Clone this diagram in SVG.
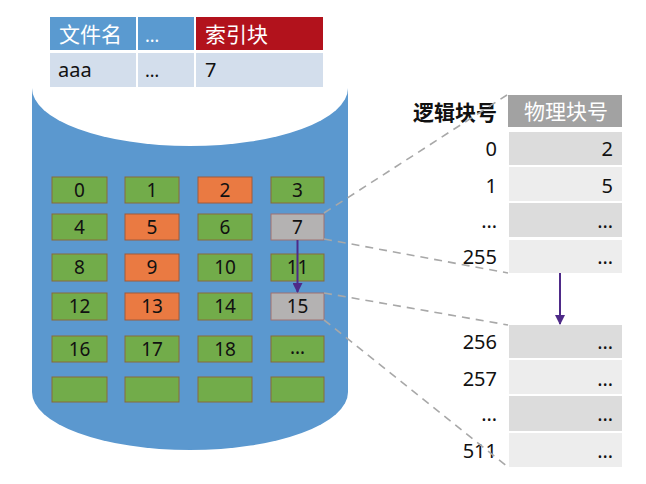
<svg xmlns="http://www.w3.org/2000/svg" width="646" height="484" viewBox="0 0 646 484">
<style>
.t{font-family:"Noto Sans","Noto Sans CJK SC",sans-serif;}
.num{font-family:"Noto Sans","Noto Sans CJK SC",sans-serif;font-size:19px;fill:#111;text-anchor:middle;}
.g{fill:#72ac4a;stroke:#8a6a3a;stroke-width:1;}
.o{fill:#ea7a42;stroke:#a05a3a;stroke-width:1;}
.s{fill:#b4b2b2;stroke:#a07070;stroke-width:1;}
.dash{fill:none;stroke:#a8a8a8;stroke-width:1.6;stroke-dasharray:8 6;}
.lab{font-family:"Noto Sans","Noto Sans CJK SC",sans-serif;font-size:20px;fill:#111;text-anchor:end;}
.dk{fill:#dcdcdc;}
.lt{fill:#ededed;}
</style>
<defs>
<marker id="ah" viewBox="0 0 10 10" refX="9" refY="5" markerWidth="5" markerHeight="5" orient="auto">
<path d="M0,0 L10,5 L0,10 z" fill="#4e2a88"/>
</marker>
</defs>
<rect width="646" height="484" fill="#ffffff"/>
<g id="disk">
<path d="M32,88 L32,392 A158,58 0 0 0 348,392 L348,88 Z" fill="#5b98cf"/>
<ellipse cx="190" cy="88" rx="158" ry="58" fill="#ffffff"/>
</g>
<g id="file-table" class="t">
<rect x="50" y="17" width="86" height="33" fill="#5a9ad0"/>
<rect x="138" y="17" width="56" height="33" fill="#5a9ad0"/>
<rect x="196" y="17" width="127" height="33" fill="#b2121c"/>
<rect x="50" y="53" width="86" height="34" fill="#d3deec"/>
<rect x="138" y="53" width="56" height="34" fill="#d3deec"/>
<rect x="196" y="53" width="127" height="34" fill="#d3deec"/>
<text x="59" y="42" font-size="21" fill="#ffffff" font-family="Noto Sans CJK SC,sans-serif">文件名</text>
<text x="145" y="42" font-size="18" fill="#ffffff">…</text>
<text x="205" y="42" font-size="21" fill="#ffffff" font-family="Noto Sans CJK SC,sans-serif">索引块</text>
<text x="58" y="77" font-size="20" fill="#111">aaa</text>
<text x="145" y="77" font-size="18" fill="#111">…</text>
<text x="205" y="77" font-size="20" fill="#111">7</text>
</g>
<g id="blocks">
<g id="b0"><rect class="g" x="52" y="177" width="55" height="26"/><text class="num" x="79.5" y="197">0</text></g>
<g id="b1"><rect class="g" x="125" y="177" width="54" height="26"/><text class="num" x="152" y="197">1</text></g>
<g id="b2"><rect class="o" x="198" y="177" width="54" height="26"/><text class="num" x="225" y="197">2</text></g>
<g id="b3"><rect class="g" x="271" y="177" width="53" height="26"/><text class="num" x="297.5" y="197">3</text></g>
<g id="b4"><rect class="g" x="52" y="214" width="55" height="26"/><text class="num" x="79.5" y="234">4</text></g>
<g id="b5"><rect class="o" x="125" y="214" width="54" height="26"/><text class="num" x="152" y="234">5</text></g>
<g id="b6"><rect class="g" x="198" y="214" width="54" height="26"/><text class="num" x="225" y="234">6</text></g>
<g id="b7"><rect class="s" x="271" y="214" width="53" height="26"/><text class="num" x="297.5" y="234">7</text></g>
<g id="b8"><rect class="g" x="52" y="254" width="55" height="27"/><text class="num" x="79.5" y="274">8</text></g>
<g id="b9"><rect class="o" x="125" y="254" width="54" height="27"/><text class="num" x="152" y="274">9</text></g>
<g id="b10"><rect class="g" x="198" y="254" width="54" height="27"/><text class="num" x="225" y="274">10</text></g>
<g id="b11"><rect class="g" x="271" y="254" width="53" height="27"/><text class="num" x="297.5" y="274">11</text></g>
<g id="b12"><rect class="g" x="52" y="293" width="55" height="27"/><text class="num" x="79.5" y="313">12</text></g>
<g id="b13"><rect class="o" x="125" y="293" width="54" height="27"/><text class="num" x="152" y="313">13</text></g>
<g id="b14"><rect class="g" x="198" y="293" width="54" height="27"/><text class="num" x="225" y="313">14</text></g>
<g id="b15"><rect class="s" x="271" y="293" width="53" height="27"/><text class="num" x="297.5" y="313">15</text></g>
<g id="b16"><rect class="g" x="52" y="336" width="55" height="26"/><text class="num" x="79.5" y="356">16</text></g>
<g id="b17"><rect class="g" x="125" y="336" width="54" height="26"/><text class="num" x="152" y="356">17</text></g>
<g id="b18"><rect class="g" x="198" y="336" width="54" height="26"/><text class="num" x="225" y="356">18</text></g>
<g id="b19"><rect class="g" x="271" y="336" width="53" height="26"/><text class="num" x="297.5" y="354">…</text></g>
<g id="b20"><rect class="g" x="52" y="377" width="55" height="25"/></g>
<g id="b21"><rect class="g" x="125" y="377" width="54" height="25"/></g>
<g id="b22"><rect class="g" x="198" y="377" width="54" height="25"/></g>
<g id="b23"><rect class="g" x="271" y="377" width="53" height="25"/></g>
</g>
<g id="index-table">
<text x="497" y="120" font-size="21" font-weight="bold" fill="#111" text-anchor="end" font-family="Noto Sans CJK SC,sans-serif">逻辑块号</text>
<rect x="508" y="95" width="114" height="32" fill="#a2a2a2"/>
<text x="566" y="119" font-size="21" fill="#ffffff" text-anchor="middle" font-family="Noto Sans CJK SC,sans-serif">物理块号</text>
<rect class="dk" x="509" y="132" width="113" height="33"/>
<rect class="lt" x="509" y="167" width="113" height="34"/>
<rect class="dk" x="509" y="203" width="113" height="34"/>
<rect class="lt" x="509" y="240" width="113" height="33"/>
<rect class="dk" x="509" y="325" width="113" height="33"/>
<rect class="lt" x="509" y="360" width="113" height="34"/>
<rect class="dk" x="509" y="396" width="113" height="35"/>
<rect class="lt" x="509" y="433" width="113" height="34"/>
<text class="lab" x="497" y="156">0</text>
<text class="lab" x="497" y="193">1</text>
<text class="lab" x="497" y="228">…</text>
<text class="lab" x="497" y="264">255</text>
<text class="lab" x="497" y="349">256</text>
<text class="lab" x="497" y="386">257</text>
<text class="lab" x="497" y="421">…</text>
<text class="lab" x="497" y="458">511</text>
<text class="lab" x="613" y="156">2</text>
<text class="lab" x="613" y="193">5</text>
<text class="lab" x="613" y="228">…</text>
<text class="lab" x="613" y="264">…</text>
<text class="lab" x="613" y="349">…</text>
<text class="lab" x="613" y="386">…</text>
<text class="lab" x="613" y="421">…</text>
<text class="lab" x="613" y="458">…</text>
</g>
<g id="connectors">
<line class="dash" x1="324" y1="213" x2="507" y2="95"/>
<line class="dash" x1="324" y1="239" x2="508" y2="273"/>
<line class="dash" x1="324" y1="293" x2="508" y2="325"/>
<line class="dash" x1="324" y1="320" x2="508" y2="467"/>
<line x1="297.5" y1="240" x2="297.5" y2="292" stroke="#4e2a88" stroke-width="2" marker-end="url(#ah)"/>
<line x1="560" y1="273" x2="560" y2="324" stroke="#4e2a88" stroke-width="2" marker-end="url(#ah)"/>
</g>
</svg>
